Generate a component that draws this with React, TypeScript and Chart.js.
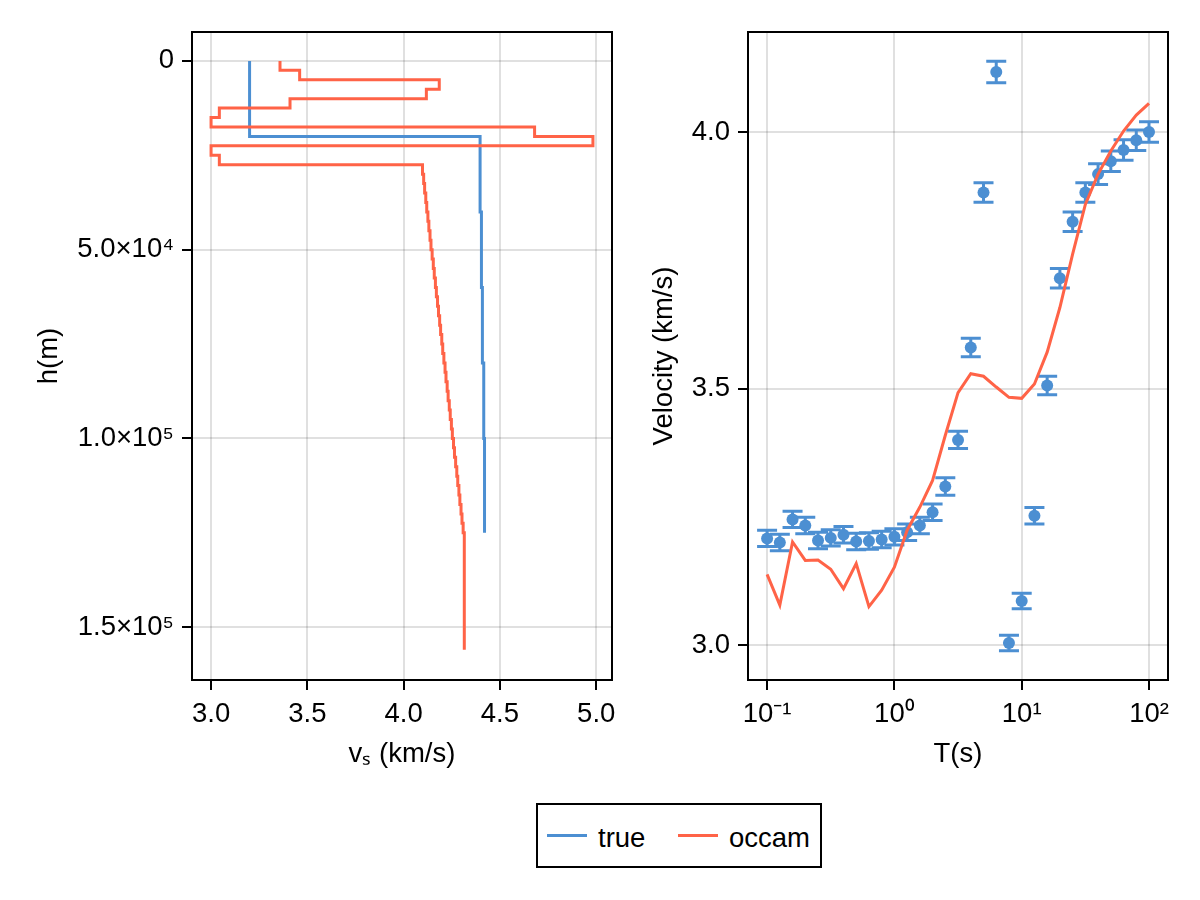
import { useEffect, useRef } from 'react'
import { Chart, registerables } from 'chart.js'

Chart.register(...registerables)

const FONT = "'Liberation Sans', Arial, Helvetica, sans-serif"
const FS = 27.5
const BLUE = '#4c8fd2'
const RED = '#ff6347'
const GRID = 'rgba(0, 0, 0, 0.12)'

// left panel: layered shear-velocity profiles (layer top in m, vs in km/s)
const trueTop = [0, 20000, 40000, 60000, 80000, 100000]
const trueVs = [3.2, 4.397, 4.404, 4.409, 4.416, 4.42]
const trueBottom = 125000

const occamTop = [
  0, 2500, 5000, 7500, 10000, 12500, 15000, 17500, 20000, 22500, 25000,
  27500, 30000, 32500, 35000, 37500, 40000, 42500, 45000, 47500, 50000,
  52500, 55000, 57500, 60000, 62500, 65000, 67500, 70000, 72500, 75000,
  77500, 80000, 82500, 85000, 87500, 90000, 92500, 95000, 97500, 100000,
  102500, 105000, 107500, 110000, 112500, 115000, 117500, 120000, 122500, 125000,
]
const occamVs = [
  3.358, 3.46, 4.185, 4.118, 3.41, 3.043, 3.0, 4.68, 4.983, 3.0, 3.043,
  4.098, 4.104, 4.109, 4.115, 4.12, 4.126, 4.131, 4.137, 4.142, 4.148,
  4.154, 4.159, 4.165, 4.17, 4.176, 4.181, 4.187, 4.192, 4.198, 4.203,
  4.209, 4.215, 4.22, 4.226, 4.231, 4.237, 4.242, 4.248, 4.253, 4.259,
  4.264, 4.27, 4.276, 4.281, 4.287, 4.292, 4.298, 4.303, 4.309, 4.315,
]
const occamBottom = 156000

const vsTicks = [3.0, 3.5, 4.0, 4.5, 5.0]
const hTicks = [0, 50000, 100000, 150000]
const hTickLabels = ['0', '5.0×10⁴', '1.0×10⁵', '1.5×10⁵']

// right panel: dispersion curve
const periods = [
  0.1, 0.1259, 0.1585, 0.1995, 0.2512, 0.3162, 0.3981, 0.5012, 0.631, 0.7943,
  1, 1.259, 1.585, 1.995, 2.512, 3.162, 3.981, 5.012, 6.31, 7.943,
  10, 12.59, 15.85, 19.95, 25.12, 31.62, 39.81, 50.12, 63.1, 79.43, 100,
]
const obsVel = [
  3.208, 3.2, 3.245, 3.233, 3.204, 3.209, 3.215, 3.202, 3.203, 3.206,
  3.211, 3.22, 3.233, 3.259, 3.309, 3.4, 3.58, 3.882, 4.117, 3.004,
  3.086, 3.252, 3.506, 3.715, 3.825, 3.882, 3.918, 3.943, 3.965, 3.984, 4.0,
]
const obsErr = [
  0.016, 0.016, 0.016, 0.016, 0.016, 0.016, 0.016, 0.016, 0.016, 0.016,
  0.016, 0.016, 0.016, 0.016, 0.017, 0.017, 0.018, 0.019, 0.021, 0.015,
  0.015, 0.016, 0.018, 0.019, 0.019, 0.019, 0.02, 0.02, 0.02, 0.02, 0.02,
]
const occamVel = [
  3.138, 3.078, 3.201, 3.165, 3.166, 3.148, 3.11, 3.159, 3.075, 3.107,
  3.152, 3.224, 3.269, 3.321, 3.409, 3.492, 3.529, 3.524, 3.503, 3.483,
  3.481, 3.509, 3.571, 3.658, 3.762, 3.859, 3.918, 3.963, 4.002, 4.033, 4.056,
]
const periodTicks = [0.1, 1, 10, 100]
const periodTickLabels = ['10⁻¹', '10⁰', '10¹', '10²']
const velTicks = [3.0, 3.5, 4.0]

function profile(tops: number[], vs: number[], bottom: number) {
  const pts = tops.map((h, i) => ({ x: vs[i], y: h }))
  pts.push({ x: vs[vs.length - 1], y: bottom })
  return pts
}

const framePlugin = {
  id: 'frame',
  afterDraw(chart: any) {
    const { ctx, chartArea: a } = chart
    ctx.save()
    ctx.strokeStyle = '#000'
    ctx.lineWidth = 2
    ctx.strokeRect(a.left, a.top, a.right - a.left, a.bottom - a.top)
    ctx.restore()
  },
}

const errorBarPlugin = {
  id: 'errorBars',
  beforeDatasetsDraw(chart: any) {
    const { ctx, chartArea: a, scales } = chart
    ctx.save()
    ctx.beginPath()
    ctx.rect(a.left, a.top, a.right - a.left, a.bottom - a.top)
    ctx.clip()
    ctx.strokeStyle = BLUE
    ctx.lineWidth = 3
    periods.forEach((t, i) => {
      const px = scales.x.getPixelForValue(t)
      const lo = scales.y.getPixelForValue(obsVel[i] - obsErr[i])
      const hi = scales.y.getPixelForValue(obsVel[i] + obsErr[i])
      ctx.beginPath()
      ctx.moveTo(px, lo)
      ctx.lineTo(px, hi)
      ctx.moveTo(px - 10, lo)
      ctx.lineTo(px + 10, lo)
      ctx.moveTo(px - 10, hi)
      ctx.lineTo(px + 10, hi)
      ctx.stroke()
    })
    ctx.restore()
  },
}

function axis(title: string, titlePad: any, ticks: number[], labels: (v: number) => string, fit: (s: any) => void) {
  return {
    afterBuildTicks: (s: any) => { s.ticks = ticks.map(v => ({ value: v })) },
    afterFit: (s: any) => {
      fit(s)
      s.paddingLeft = 0
      s.paddingRight = 0
      s.paddingTop = 0
      s.paddingBottom = 0
    },
    ticks: {
      color: '#000',
      font: { family: FONT, size: FS },
      padding: 8,
      maxRotation: 0,
      autoSkip: false,
      callback: (v: any) => labels(Number(v)),
    },
    grid: { color: GRID, lineWidth: 2, tickColor: '#000', tickLength: 10, tickWidth: 2 },
    border: { display: false },
    title: { display: true, text: title, color: '#000', font: { family: FONT, size: FS }, padding: titlePad },
  }
}

export default function App() {
  const leftRef = useRef<HTMLCanvasElement>(null)
  const rightRef = useRef<HTMLCanvasElement>(null)

  useEffect(() => {
    if (!leftRef.current || !rightRef.current) return

    const left = new Chart(leftRef.current, {
      type: 'scatter',
      data: {
        datasets: [
          {
            label: 'true',
            data: profile(trueTop, trueVs, trueBottom),
            showLine: true,
            stepped: 'after',
            borderColor: BLUE,
            borderWidth: 3,
            pointRadius: 0,
            order: 1,
          },
          {
            label: 'occam',
            data: profile(occamTop, occamVs, occamBottom),
            showLine: true,
            stepped: 'after',
            borderColor: RED,
            borderWidth: 3,
            pointRadius: 0,
            order: 0,
          },
        ],
      },
      options: {
        animation: false,
        responsive: true,
        maintainAspectRatio: false,
        layout: { padding: { left: 0, top: 32, right: 8, bottom: 0 } },
        plugins: { legend: { display: false }, tooltip: { enabled: false } },
        scales: {
          x: {
            type: 'linear',
            min: 2.901,
            max: 5.082,
            ...axis('vₛ (km/s)', { top: 0, bottom: 9 }, vsTicks, v => v.toFixed(1), (s: any) => { s.height = 100 }),
          },
          y: {
            type: 'linear',
            reverse: true,
            min: -7650,
            max: 164000,
            ...axis('h(m)', { top: 33, bottom: 0 }, hTicks, v => hTickLabels[hTicks.indexOf(v)], (s: any) => { s.width = 192 }),
          },
        },
      } as any,
      plugins: [framePlugin],
    })

    const right = new Chart(rightRef.current, {
      type: 'scatter',
      data: {
        datasets: [
          {
            label: 'observed',
            data: periods.map((t, i) => ({ x: t, y: obsVel[i] })),
            pointRadius: 6,
            pointBackgroundColor: BLUE,
            pointBorderWidth: 0,
            order: 1,
          },
          {
            label: 'occam',
            data: periods.map((t, i) => ({ x: t, y: occamVel[i] })),
            showLine: true,
            borderColor: RED,
            borderWidth: 3,
            pointRadius: 0,
            order: 0,
          },
        ],
      },
      options: {
        animation: false,
        responsive: true,
        maintainAspectRatio: false,
        layout: { padding: { left: 0, top: 32, right: 32, bottom: 0 } },
        plugins: { legend: { display: false }, tooltip: { enabled: false } },
        scales: {
          x: {
            type: 'logarithmic',
            min: 0.0708,
            max: 141,
            ...axis('T(s)', { top: 0, bottom: 9 }, periodTicks, v => periodTickLabels[periodTicks.indexOf(v)], (s: any) => { s.height = 100 }),
          },
          y: {
            type: 'linear',
            min: 2.932,
            max: 4.195,
            ...axis('Velocity (km/s)', { top: 28, bottom: 0 }, velTicks, v => v.toFixed(1), (s: any) => { s.width = 128 }),
          },
        },
      } as any,
      plugins: [errorBarPlugin, framePlugin],
    })

    return () => {
      left.destroy()
      right.destroy()
    }
  }, [])

  const legendText = { position: 'absolute' as const, top: 17, lineHeight: '32px', fontSize: FS, color: '#000' }
  const legendLine = { position: 'absolute' as const, top: 29, width: 40, height: 3 }

  return (
    <div style={{ position: 'absolute', left: 0, top: 0, width: 1200, height: 900, background: '#fff', fontFamily: FONT }}>
      <div style={{ position: 'absolute', left: 0, top: 0, width: 620, height: 780 }}>
        <canvas ref={leftRef} />
      </div>
      <div style={{ position: 'absolute', left: 620, top: 0, width: 580, height: 780 }}>
        <canvas ref={rightRef} />
      </div>
      <div style={{ position: 'absolute', left: 536, top: 803, width: 286, height: 65, border: '2px solid #000', boxSizing: 'border-box' }}>
        <span style={{ ...legendLine, left: 9, background: BLUE }} />
        <span style={{ ...legendText, left: 60 }}>true</span>
        <span style={{ ...legendLine, left: 140, background: RED }} />
        <span style={{ ...legendText, left: 191 }}>occam</span>
      </div>
    </div>
  )
}
